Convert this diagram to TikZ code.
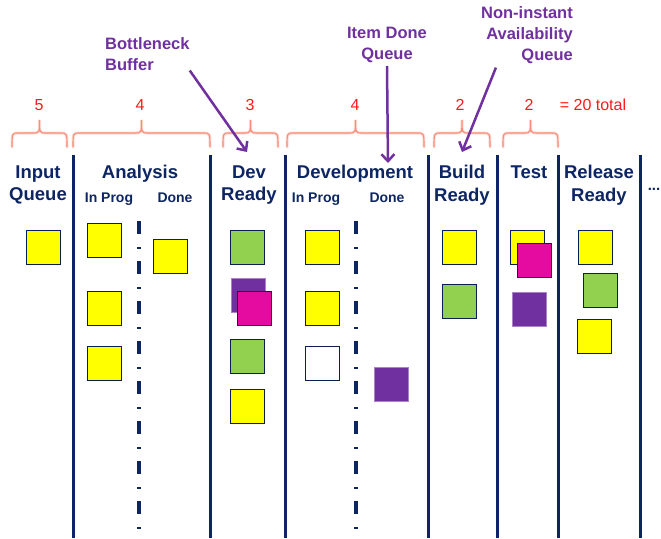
\documentclass[tikz,border=0pt]{standalone}
\usepackage{fontspec}
\setmainfont{Liberation Sans}
\usepackage{xcolor}
\usepackage{tikz}
\usetikzlibrary{arrows.meta}

\definecolor{navy}{RGB}{13,37,99}
\definecolor{stickyyellow}{RGB}{255,255,0}
\definecolor{stickygreen}{RGB}{146,208,80}
\definecolor{stickypink}{RGB}{229,11,160}
\definecolor{stickypurple}{RGB}{112,48,160}
\definecolor{limitred}{RGB}{255,25,25}
\definecolor{bracered}{RGB}{248,140,120}

\begin{document}
\begin{tikzpicture}[x=1pt, y=-1pt,
  head/.style={font=\bfseries\fontsize{18.5}{22.5}\selectfont, text=navy, align=center, inner sep=0pt},
  sub/.style={font=\bfseries\fontsize{14}{16}\selectfont, text=navy, inner sep=0pt, anchor=base},
  lim/.style={font=\fontsize{16}{18}\selectfont, text=limitred, inner sep=0pt, anchor=base},
  note/.style={font=\bfseries\fontsize{16.5}{21}\selectfont, text=stickypurple, inner sep=0pt},
  card/.style={draw=navy!85!black, line width=0.8pt, minimum size=34pt, inner sep=0pt, anchor=north west},
  pcard/.style={card, draw=stickypurple!60, line width=0.5pt, fill=stickypurple},
  pointer/.style={-{Straight Barb[length=7pt,width=13pt]}, line width=2.5pt, stickypurple},
  lane/.style={navy, line width=3pt},
  split/.style={navy, line width=3.5pt, dash pattern=on 13pt off 13pt on 2pt off 12pt}]

\useasboundingbox (0,0) rectangle (661,538);

% Column dividers
\foreach \x in {73,210,285,428,497,558,640}
  \draw[lane] (\x,155) -- (\x,538);

% In Prog / Done splits
\foreach \x in {139,356}
  \draw[split] (\x,221) -- (\x,538);

% WIP limits
\foreach \a/\b in {12/67,73/210,223/278,287/424,434/490,503/558} {
  \draw[bracered!30, line width=3pt, line cap=round]
    (\a,147) .. controls (\a,133) .. (\a+7,133) -- ({(\a+\b)/2-7},133)
    .. controls ({(\a+\b)/2},133) .. ({(\a+\b)/2},120)
    .. controls ({(\a+\b)/2},133) .. ({(\a+\b)/2+7},133) -- (\b-7,133)
    .. controls (\b,133) .. (\b,147);
  \draw[bracered, line width=1.1pt]
    (\a,147) .. controls (\a,133) .. (\a+7,133) -- ({(\a+\b)/2-7},133)
    .. controls ({(\a+\b)/2},133) .. ({(\a+\b)/2},120)
    .. controls ({(\a+\b)/2},133) .. ({(\a+\b)/2+7},133) -- (\b-7,133)
    .. controls (\b,133) .. (\b,147);
}
\node[lim] (lim-iq) at (39,110) {5};
\node[lim] (lim-an) at (140,110) {4};
\node[lim] (lim-dr) at (250,110) {3};
\node[lim] (lim-dv) at (355,110) {4};
\node[lim] (lim-br) at (460,110) {2};
\node[lim] (lim-ts) at (529,110) {2};
\node[lim] (lim-sum) at (593,110) {= 20 total};

% Column headings
\node[head] (inq) at (38,185) {Input\\Queue};
\node[head, anchor=base] (ana) at (140,178) {Analysis};
\node[sub] (ana-ip) at (109,202) {In Prog};
\node[sub] (ana-dn) at (175,202) {Done};
\node[head] (devr) at (249,185) {Dev\\Ready};
\node[head, anchor=base] (dev) at (355,178) {Development};
\node[sub] (dev-ip) at (316,202) {In Prog};
\node[sub] (dev-dn) at (387,202) {Done};
\node[head] (bldr) at (462,185) {Build\\Ready};
\node[head, anchor=base] (tst) at (529,178) {Test};
\node[head] (relr) at (599,185) {Release\\Ready};
\node[head, font=\bfseries\fontsize{15}{18}\selectfont, anchor=base east] (more) at (660.5,190) {...};

% Cards
\node[card, fill=stickyyellow] (iq1) at (26,230) {};

\node[card, fill=stickyyellow] (an1) at (87,223) {};
\node[card, fill=stickyyellow] (an2) at (87,291) {};
\node[card, fill=stickyyellow] (an3) at (87,346) {};
\node[card, fill=stickyyellow] (ad1) at (153,239) {};

\node[card, fill=stickygreen] (dr1) at (230,230) {};
\node[pcard] (dr2) at (231,278) {};
\node[card, fill=stickypink] (dr3) at (237,291) {};
\node[card, fill=stickygreen] (dr4) at (230,339) {};
\node[card, fill=stickyyellow] (dr5) at (230,389) {};

\node[card, fill=stickyyellow] (dp1) at (305,230) {};
\node[card, fill=stickyyellow] (dp2) at (305,291) {};
\node[card, fill=white] (dp3) at (305,346) {};
\node[pcard] (dd1) at (374,367) {};

\node[card, fill=stickyyellow] (br1) at (442,230) {};
\node[card, fill=stickygreen] (br2) at (442,284) {};

\node[card, fill=stickyyellow] (ts1) at (510,230) {};
\node[card, fill=stickypink] (ts2) at (517,243) {};
\node[pcard] (ts3) at (512,292) {};

\node[card, fill=stickyyellow] (rr1) at (578,230) {};
\node[card, fill=stickygreen] (rr2) at (583,273) {};
\node[card, fill=stickyyellow] (rr3) at (577,319) {};

% Queue callouts
\node[note, align=left, anchor=north west] (bneck) at (105,37) {Bottleneck\\Buffer};
\node[note, align=center, anchor=north] (itemq) at (387,27) {Item Done\\Queue};
\node[note, align=right, anchor=north east] (nonq) at (573,6) {Non-instant\\Availability\\Queue};

\coordinate (bneck-tip) at (247,152);
\coordinate (itemq-tip) at (388,163);
\coordinate (nonq-tip) at (462,152);

\draw[pointer] (bneck.south east) -- (bneck-tip);
\draw[pointer] ([yshift=-3pt]itemq.south) -- (itemq-tip);
\draw[pointer] ([xshift=15pt,yshift=-4pt]nonq.south west) -- (nonq-tip);

\end{tikzpicture}
\end{document}
